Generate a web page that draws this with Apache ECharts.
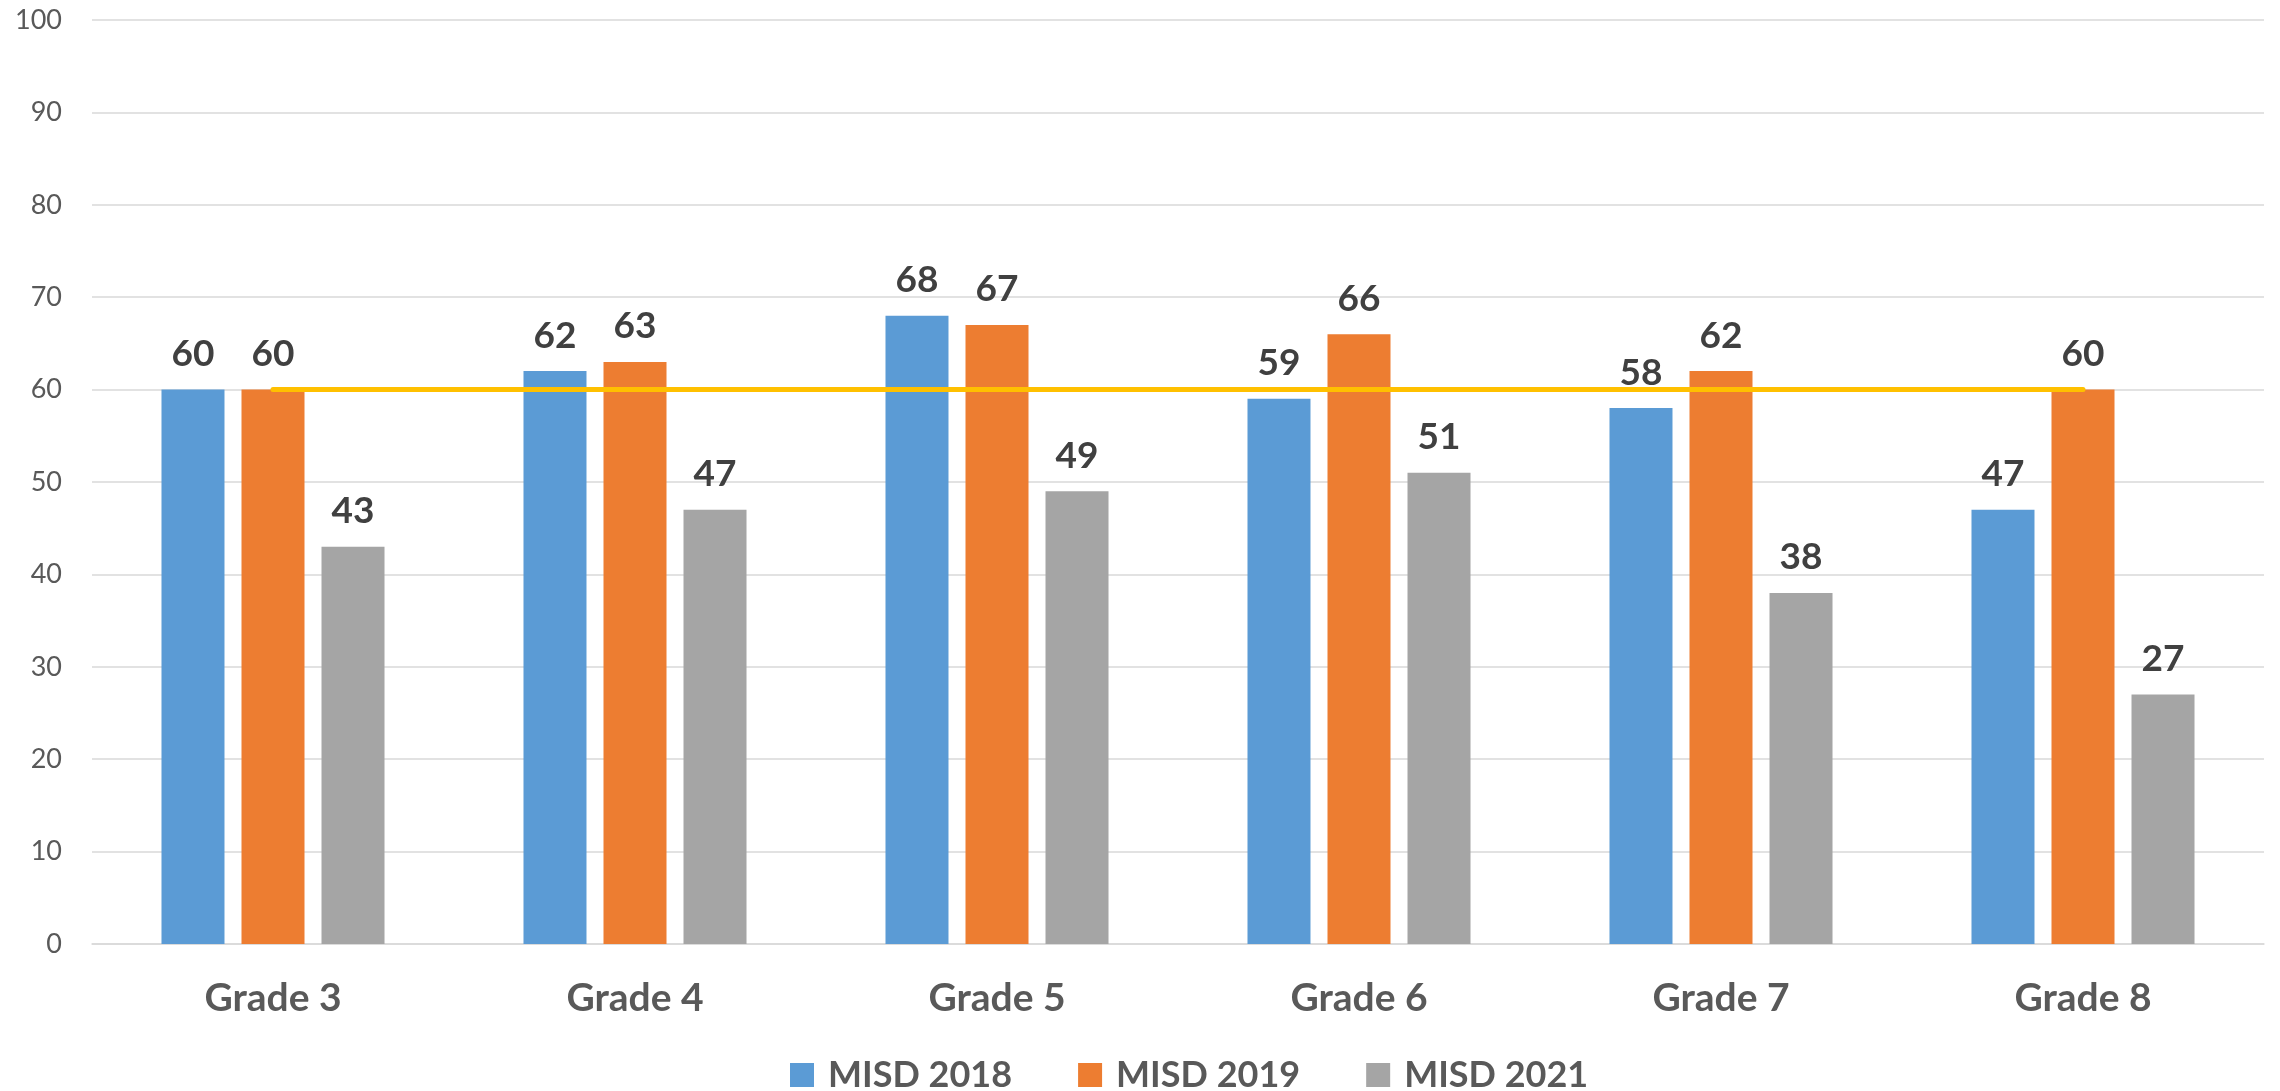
<!DOCTYPE html>
<html>
<head>
<meta charset="utf-8">
<script src="https://cdn.jsdelivr.net/npm/echarts@6/dist/echarts.min.js"></script>
<style>html,body{margin:0;padding:0;background:#fff}#c{width:2280px;height:1091px}</style>
</head>
<body>
<div id="c"></div>
<script>
const categories = ['Grade 3','Grade 4','Grade 5','Grade 6','Grade 7','Grade 8'];
const misd2018 = [60,62,68,59,58,47];
const misd2019 = [60,63,67,66,62,60];
const misd2021 = [43,47,49,51,38,27];
const target = [60,60,60,60,60,60];
const yTicks = {min:0, max:100, interval:10};

const chart = echarts.init(document.getElementById('c'));
const labelStyle = {show:true, position:'top', distance:17, fontFamily:'Lato', fontWeight:'bold', fontSize:37, color:'#404040'};
function bar(name, data, color){
  return {name, type:'bar', data, barWidth:63, barGap:'27%', itemStyle:{color}, label:labelStyle, z:2};
}
chart.setOption({
  animation:false,
  grid:{left:92, right:16, top:20, bottom:147},
  legend:{
    data:['MISD 2018','MISD 2019','MISD 2021'],
    left:785, top:1052, itemWidth:24, itemHeight:24, itemGap:66,
    icon:'rect',
    textStyle:{fontFamily:'Lato', fontWeight:'bold', fontSize:36, color:'#595959', padding:[0,0,0,9]}
  },
  xAxis:{
    type:'category', data:categories,
    axisLine:{lineStyle:{color:'#d9d9d9', width:1.5}},
    axisTick:{show:false},
    axisLabel:{fontFamily:'Lato', fontWeight:'bold', fontSize:39, color:'#595959', margin:35}
  },
  yAxis:{
    type:'value', min:yTicks.min, max:yTicks.max, interval:yTicks.interval,
    axisLine:{show:false}, axisTick:{show:false},
    splitLine:{lineStyle:{color:'#d9d9d9', width:1.5}},
    axisLabel:{fontFamily:'Lato', fontSize:27, color:'#595959', margin:30}
  },
  series:[
    bar('MISD 2018', misd2018, '#5B9BD5'),
    bar('MISD 2019', misd2019, '#ED7D31'),
    bar('MISD 2021', misd2021, '#A5A5A5'),
    {name:'Target', type:'line', data:target, symbol:'none', z:5,
     lineStyle:{color:'#FFC000', width:5, cap:'round'}}
  ]
});
</script>
</body>
</html>
